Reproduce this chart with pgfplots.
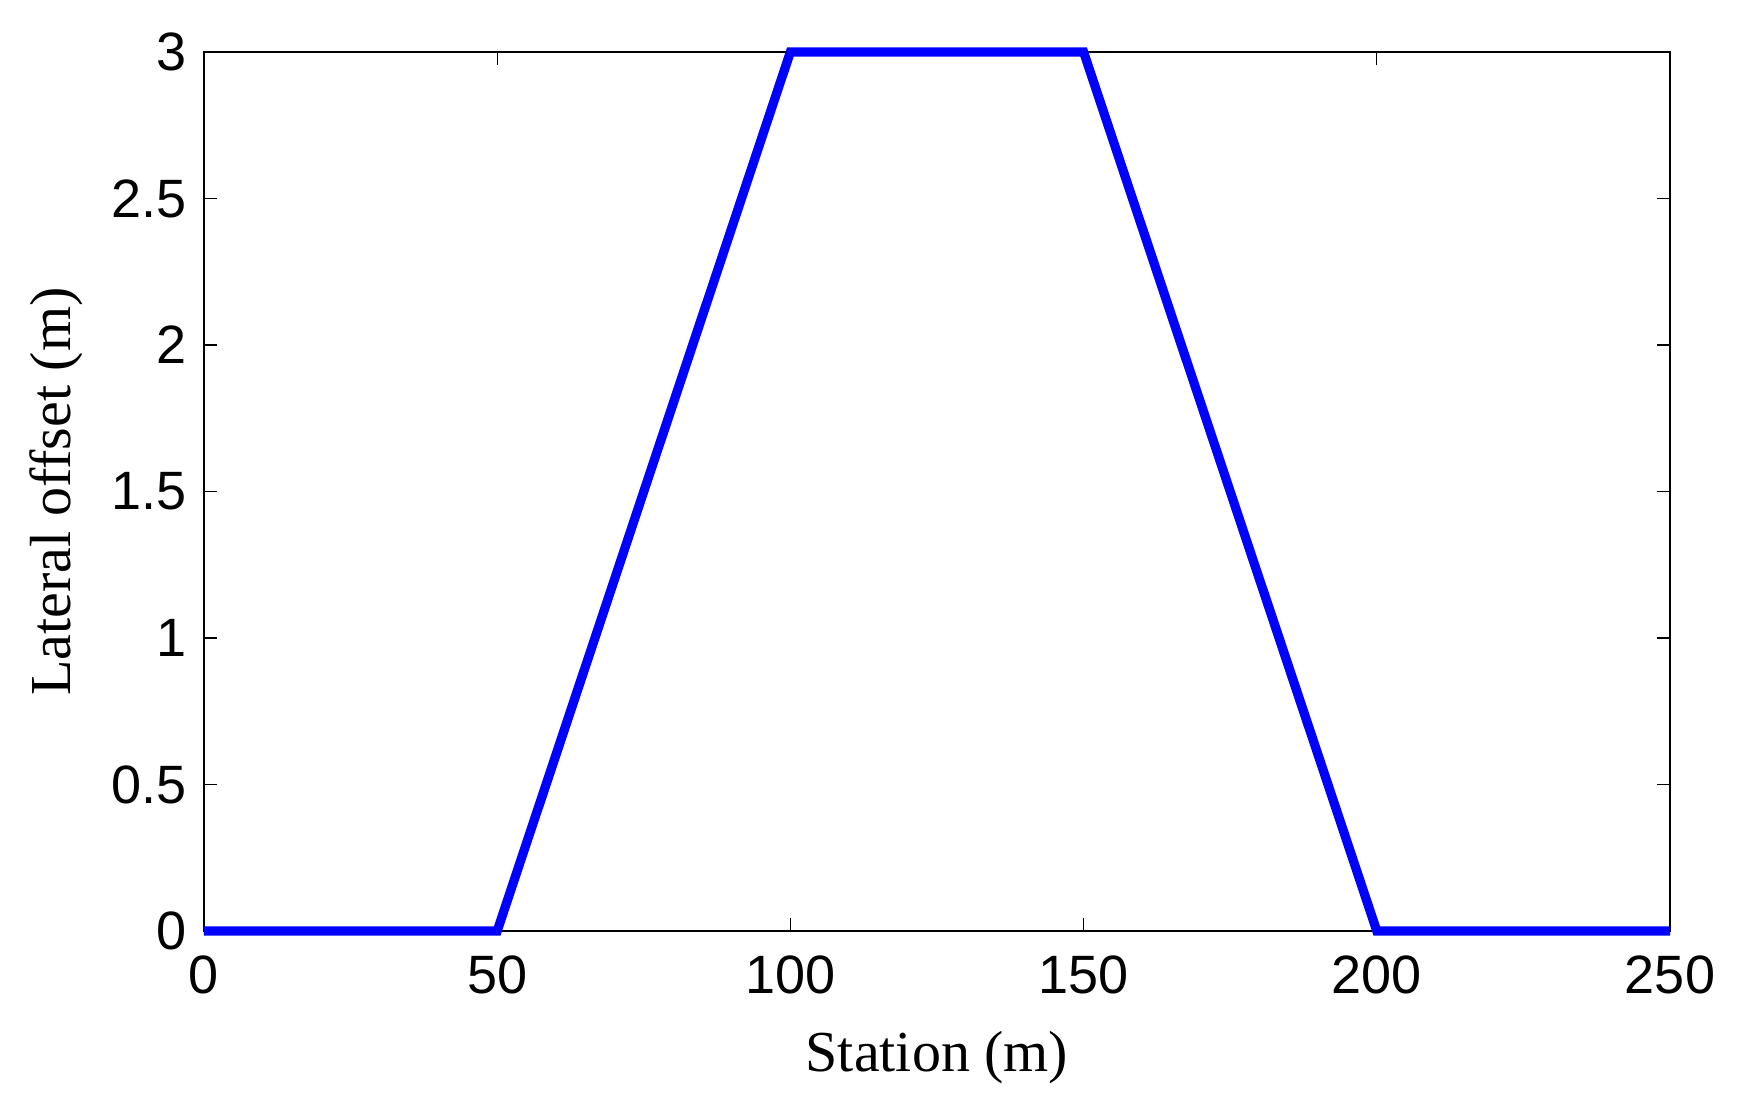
\documentclass[border=0pt]{standalone}
\usepackage{fontspec}
\setmainfont{Liberation Serif}
\newfontfamily\ticksans{Liberation Sans}
\usepackage{pgfplots}
\pgfplotsset{compat=1.18}
\begin{document}
\begin{tikzpicture}
\useasboundingbox (-102pt,-89pt) rectangle (767pt,465.5pt);
\begin{axis}[
  at={(0,0)}, anchor=south west,
  scale only axis, width=733pt, height=439.5pt,
  xmin=0, xmax=250, ymin=0, ymax=3,
  xtick={0,50,...,250}, ytick={0,0.5,...,3},
  yticklabels={0,0.5,1,1.5,2,2.5,3},
  xticklabels={0,50,100,150,200,250},
  tick align=inside, major tick length=6.5pt,
  minor tick num=0,
  axis line style={line width=0.6pt}, every tick/.style={line width=0.6pt, black},
  tick label style={font=\fontsize{27}{30}\ticksans},
  /pgf/number format/assume math mode=true,
  xticklabel style={yshift=-9pt},
  yticklabel style={xshift=-5pt},
  label style={font=\fontsize{29}{33}\selectfont},
  xlabel={Station (m)}, ylabel={Lateral offset (m)},
  xlabel style={yshift=-11.5pt},
  ylabel style={yshift=7.5pt},
  clip=false,
]
\addplot[blue, line width=4.6pt, line join=miter] coordinates {(0,0) (50,0) (100,3) (150,3) (200,0) (250,0)};
\end{axis}
\end{tikzpicture}
\end{document}
